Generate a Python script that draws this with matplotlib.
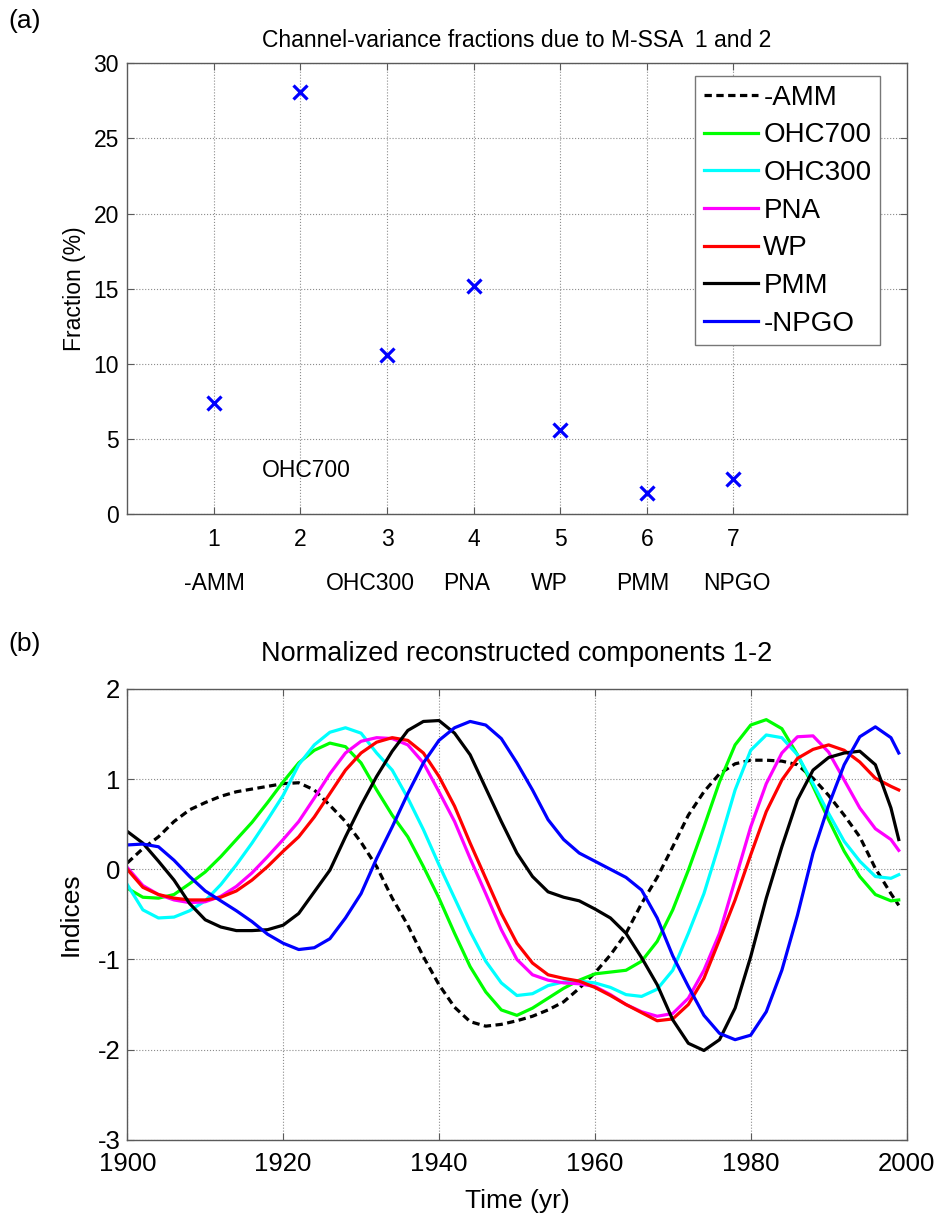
import matplotlib
matplotlib.use("Agg")
import matplotlib.pyplot as plt
from matplotlib.lines import Line2D

plt.rcParams['font.family'] = ['Liberation Sans', 'DejaVu Sans']
plt.rcParams['axes.unicode_minus'] = False

# (a) channel-variance fractions
channels = [1, 2, 3, 4, 5, 6, 7]
fractions = [7.4, 28.1, 10.6, 15.2, 5.6, 1.45, 2.35]
channel_names = ['-AMM', 'OHC700', 'OHC300', 'PNA', 'WP', 'PMM', 'NPGO']

# (b) normalized reconstructed components 1-2
years = list(range(1900, 1999, 2)) + [1999]
amm = [0.07, 0.23, 0.36, 0.53, 0.66, 0.74, 0.81, 0.86, 0.89, 0.92,
       0.95, 0.96, 0.88, 0.71, 0.53, 0.30, 0.03, -0.32, -0.62, -0.97,
       -1.28, -1.53, -1.69, -1.74, -1.72, -1.68, -1.63, -1.56, -1.47, -1.32,
       -1.15, -0.95, -0.71, -0.38, -0.09, 0.25, 0.60, 0.86, 1.06, 1.17,
       1.21, 1.21, 1.20, 1.16, 1.01, 0.82, 0.60, 0.36, 0.01, -0.27, -0.40]
ohc700 = [-0.21, -0.31, -0.32, -0.28, -0.16, -0.03, 0.14, 0.33, 0.52, 0.74,
          0.97, 1.18, 1.32, 1.40, 1.36, 1.18, 0.88, 0.60, 0.36, 0.03,
          -0.32, -0.71, -1.08, -1.36, -1.56, -1.62, -1.54, -1.43, -1.32, -1.23,
          -1.16, -1.14, -1.12, -1.02, -0.80, -0.45, -0.01, 0.47, 0.97, 1.38,
          1.60, 1.66, 1.56, 1.27, 0.92, 0.55, 0.20, -0.08, -0.28, -0.35, -0.34]
ohc300 = [-0.17, -0.45, -0.54, -0.53, -0.46, -0.35, -0.17, 0.05, 0.29, 0.55,
          0.82, 1.16, 1.38, 1.52, 1.57, 1.51, 1.29, 1.10, 0.79, 0.44,
          0.05, -0.32, -0.69, -1.02, -1.26, -1.40, -1.38, -1.29, -1.25, -1.24,
          -1.26, -1.31, -1.39, -1.41, -1.33, -1.12, -0.71, -0.27, 0.29, 0.88,
          1.32, 1.49, 1.46, 1.27, 0.95, 0.62, 0.31, 0.09, -0.08, -0.10, -0.06]
pna = [0.02, -0.18, -0.28, -0.34, -0.37, -0.36, -0.30, -0.19, -0.04, 0.14,
       0.33, 0.53, 0.79, 1.06, 1.29, 1.42, 1.46, 1.45, 1.38, 1.18,
       0.86, 0.53, 0.12, -0.27, -0.67, -1.00, -1.17, -1.23, -1.26, -1.27,
       -1.30, -1.39, -1.50, -1.58, -1.63, -1.60, -1.43, -1.12, -0.71, -0.12,
       0.47, 0.95, 1.29, 1.47, 1.48, 1.30, 0.99, 0.68, 0.45, 0.33, 0.21]
wp = [0.00, -0.20, -0.28, -0.32, -0.34, -0.34, -0.31, -0.24, -0.12, 0.03,
      0.20, 0.36, 0.58, 0.84, 1.10, 1.29, 1.41, 1.46, 1.43, 1.29,
      1.03, 0.70, 0.29, -0.10, -0.49, -0.82, -1.04, -1.17, -1.21, -1.24,
      -1.31, -1.40, -1.50, -1.59, -1.68, -1.66, -1.50, -1.21, -0.78, -0.34,
      0.16, 0.64, 0.99, 1.23, 1.33, 1.38, 1.32, 1.19, 1.01, 0.92, 0.88]
pmm = [0.42, 0.29, 0.09, -0.12, -0.38, -0.56, -0.64, -0.68, -0.68, -0.67,
       -0.62, -0.49, -0.25, -0.01, 0.36, 0.71, 1.03, 1.31, 1.54, 1.64,
       1.65, 1.51, 1.27, 0.90, 0.53, 0.18, -0.08, -0.25, -0.31, -0.35,
       -0.44, -0.54, -0.71, -0.98, -1.28, -1.67, -1.93, -2.01, -1.89, -1.54,
       -0.97, -0.32, 0.25, 0.77, 1.10, 1.24, 1.29, 1.31, 1.16, 0.68, 0.33]
npgo = [0.27, 0.28, 0.25, 0.10, -0.08, -0.24, -0.35, -0.46, -0.58, -0.72,
        -0.82, -0.89, -0.87, -0.77, -0.54, -0.27, 0.12, 0.47, 0.84, 1.18,
        1.43, 1.57, 1.64, 1.60, 1.45, 1.18, 0.88, 0.55, 0.33, 0.18,
        0.09, 0.00, -0.09, -0.23, -0.54, -0.96, -1.30, -1.62, -1.82, -1.89,
        -1.84, -1.58, -1.12, -0.51, 0.18, 0.71, 1.16, 1.47, 1.58, 1.46, 1.29]

series = [
    ('-AMM', amm, 'black', (0, (2.3, 1.4))),
    ('OHC700', ohc700, '#00ff00', '-'),
    ('OHC300', ohc300, '#00ffff', '-'),
    ('PNA', pna, '#ff00ff', '-'),
    ('WP', wp, '#ff0000', '-'),
    ('PMM', pmm, 'black', '-'),
    ('-NPGO', npgo, '#0000ff', '-'),
]

AX_COLOR = '#5a5a5a'
LW = 2.3


def style_axes(ax, fs):
    for sp in ax.spines.values():
        sp.set_color(AX_COLOR)
        sp.set_linewidth(1.0)
    ax.tick_params(direction='in', length=5, width=0.8, color=AX_COLOR,
                   labelsize=fs, top=True, right=True, labelcolor='black')
    ax.grid(True, linestyle=':', color='#8c8c8c', linewidth=0.8)
    ax.set_axisbelow(True)


fig = plt.figure(figsize=(9.4, 12.16), dpi=100)

# ---- panel (a)
ax1 = fig.add_axes([0.1354, 0.577, 0.829, 0.371])
ax1.plot(channels, fractions, 'x', color='#0000ff', markersize=9.5,
         markeredgewidth=2.3, clip_on=False)
ax1.set_xlim(0, 9)
ax1.set_ylim(0, 30)
ax1.set_xticks(channels)
ax1.set_yticks(range(0, 31, 5))
style_axes(ax1, 16.5)
ax1.tick_params(axis='x', pad=10)
ax1.tick_params(axis='y', pad=6)
ax1.set_ylabel('Fraction (%)', fontsize=16.5, labelpad=5)
ax1.set_title('Channel-variance fractions due to M-SSA  1 and 2',
              fontsize=16.5, pad=12)

# channel names under the axis (OHC700 sits inside the plot)
name_x = [0.65, 1.55, 2.29, 3.65, 4.66, 5.65, 6.65]
name_y = [-4.57, 2.9, -4.57, -4.57, -4.57, -4.57, -4.57]
for nm, tx, ty in zip(channel_names, name_x, name_y):
    ax1.text(tx, ty, nm, fontsize=16.5, ha='left', va='center', clip_on=False)

handles = [Line2D([], [], color=c, linestyle=ls, linewidth=LW)
           for _, _, c, ls in series]
leg = ax1.legend(handles, [s[0] for s in series], loc='upper right',
                 bbox_to_anchor=(0.9657, 0.9712), borderaxespad=0,
                 fontsize=20, fancybox=False, framealpha=1,
                 edgecolor='#777777', handlelength=1.95, handletextpad=0.2,
                 labelspacing=0.42, borderpad=0.3)
leg.get_frame().set_linewidth(1.0)

# ---- panel (b)
ax2 = fig.add_axes([0.1354, 0.0627, 0.829, 0.3707])
for name, vals, col, ls in series:
    ax2.plot(years, vals, color=col, linestyle=ls, linewidth=LW)
ax2.set_xlim(1900, 2000)
ax2.set_ylim(-3, 2)
ax2.set_xticks(range(1900, 2001, 20))
ax2.set_yticks(range(-3, 3))
style_axes(ax2, 18.5)
ax2.tick_params(axis='x', pad=9)
ax2.tick_params(axis='y', pad=5)
ax2.set_xlabel('Time (yr)', fontsize=19, labelpad=9)
ax2.set_ylabel('Indices', fontsize=19, labelpad=11)
ax2.set_title('Normalized reconstructed components 1-2', fontsize=19.5, pad=20)

fig.text(0.009, 0.983, '(a)', fontsize=19, va='center', ha='left')
fig.text(0.009, 0.470, '(b)', fontsize=19, va='center', ha='left')

fig.savefig('out.png', dpi=100)
